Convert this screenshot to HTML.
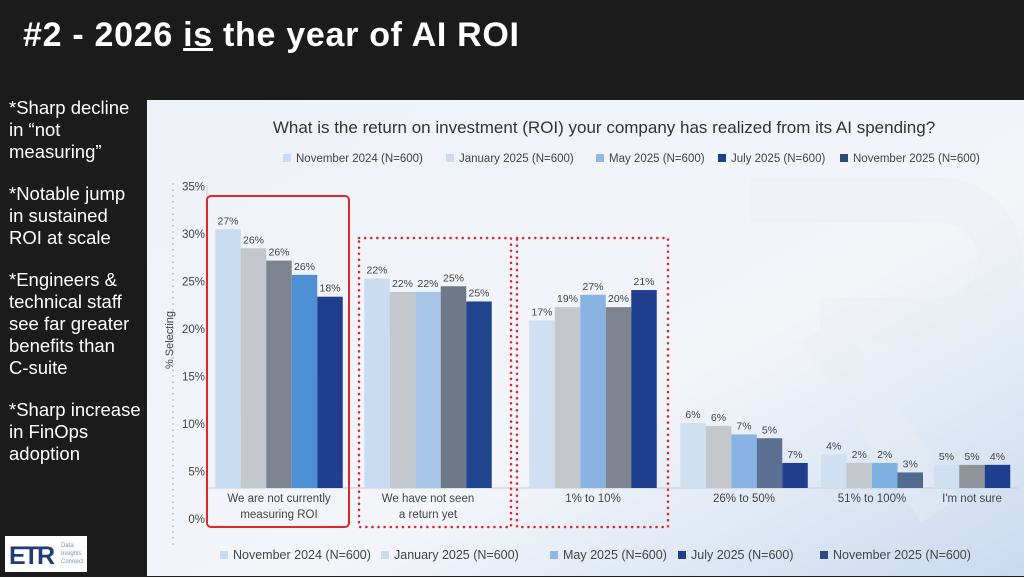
<!DOCTYPE html>
<html><head><meta charset="utf-8"><style>
html,body{margin:0;padding:0;width:1024px;height:576px;overflow:hidden;background:#1b1b1b;font-family:"Liberation Sans",sans-serif}
#title{position:absolute;left:23px;top:16px;color:#fff;font-size:34px;font-weight:bold;white-space:nowrap;letter-spacing:0.7px}
#notes{position:absolute;left:9px;top:97px;width:140px;color:#fff;font-size:18.5px;line-height:22px;white-space:nowrap}
#notes p{margin:0 0 20px 0}
#logo{position:absolute;left:5px;top:536px;width:82px;height:36px;background:#fff}
#panel{position:absolute;left:147px;top:100px}
</style></head><body>
<div id="title">#2 - 2026 <u>is</u> the year of AI ROI</div>
<div id="notes">
<p>*Sharp decline<br>in “not<br>measuring”</p>
<p>*Notable jump<br>in sustained<br>ROI at scale</p>
<p>*Engineers &amp;<br>technical staff<br>see far greater<br>benefits than<br>C-suite</p>
<p>*Sharp increase<br>in FinOps<br>adoption</p>
</div>
<div id="logo">
<svg width="82" height="36"><text x="4" y="28" font-family="Liberation Sans" font-weight="bold" font-size="25" fill="#1f3b78" letter-spacing="-2">ETR</text><text x="56" y="11" font-size="6" fill="#7a8fb5">Data</text><text x="56" y="19" font-size="6" fill="#7a8fb5">Insights</text><text x="56" y="27" font-size="6" fill="#7a8fb5">Connect</text></svg>
</div>
<svg id="panel" width="877" height="476" viewBox="147 100 877 476">
<defs>
<linearGradient id="bg" x1="0" y1="0" x2="1" y2="1">
<stop offset="0" stop-color="#eef2f8"/><stop offset="0.6" stop-color="#f3f5f9"/><stop offset="1" stop-color="#c9daf0"/>
</linearGradient>
</defs>
<rect x="147" y="100" width="877" height="476" fill="url(#bg)"/>
<path d="M750 200 h190 a60 60 0 0 1 0 120 h-120 M820 330 l120 180" fill="none" stroke="#e9edf3" stroke-width="45" opacity="0.4"/>
<text x="604" y="133" text-anchor="middle" font-size="17" fill="#333">What is the return on investment (ROI) your company has realized from its AI spending?</text>
<g id="legendTop"></g>
<g id="legendBot"></g>
<line x1="173" y1="183" x2="173" y2="545" stroke="#b8c4d6" stroke-width="1.5" stroke-dasharray="2,4"/>
<text transform="translate(173,340) rotate(-90)" text-anchor="middle" font-size="11" fill="#444">% Selecting</text>
<g id="yticks"></g>
<line x1="205" y1="488" x2="1018" y2="488" stroke="#c6cdd8" stroke-width="1"/>
<line x1="207" y1="185" x2="207" y2="488" stroke="#c6cdd8" stroke-width="1"/>
<g id="bars"></g>
<g id="xlabels"></g>
<rect x="207" y="196" width="142" height="331" rx="4" fill="none" stroke="#e0262b" stroke-width="2"/>
<rect x="359" y="238" width="152" height="289" fill="none" stroke="#e0262b" stroke-width="2.5" stroke-dasharray="0.1,6" stroke-linecap="round"/>
<rect x="517" y="238" width="151" height="289" fill="none" stroke="#e0262b" stroke-width="2.5" stroke-dasharray="0.1,6" stroke-linecap="round"/>
</svg>
<script>
const categories=[["We are not currently","measuring ROI"],["We have not seen","a return yet"],["1% to 10%"],["26% to 50%"],["51% to 100%"],["I'm not sure"]];
const barValues=[[30.5,28.5,27.2,25.7,23.4],[25.3,23.9,23.9,24.5,22.9],[20.9,22.3,23.6,22.3,24.1],[10.1,9.8,8.9,8.5,5.9],[6.8,5.9,5.9,4.9],[5.7,5.7,5.7]];
const barLabels=[["27%","26%","26%","26%","18%"],["22%","22%","22%","25%","25%"],["17%","19%","27%","20%","21%"],["6%","6%","7%","5%","7%"],["4%","2%","2%","3%"],["5%","5%","4%"]];
const tickValues=[0,5,10,15,20,25,30,35];
const tickLabels=["0%","5%","10%","15%","20%","25%","30%","35%"];
const seriesNames=["November 2024 (N=600)","January 2025 (N=600)","May 2025 (N=600)","July 2025 (N=600)","November 2025 (N=600)"];
const barColors=[["#c9dcf1","#c4c7cc","#7d838f","#4c8fd2","#1f3f8e"],["#c9dcf1","#c4c7cc","#a8c6e8","#6d7889","#1f4590"],["#cfe0f3","#c4c7cc","#88b3e2","#7d838f","#1f3f8e"],["#cfe0f3","#c4c7cc","#88b3e2","#5a6f92","#1f3f8e"],["#cfe0f3","#c4c7cc","#7fb0e2","#536a90"],["#cfe0f3","#8f949b","#1f3f8e"]];
const groupCenters=[279,428,593,744,872,972];
const NS="http://www.w3.org/2000/svg";
const y=v=>519-v*9.5;
const baseY=488, bw=25.5;
function mk(tag,attrs,parent){const e=document.createElementNS(NS,tag);for(const k in attrs)e.setAttribute(k,attrs[k]);parent.appendChild(e);return e;}
const yt=document.getElementById('yticks');
tickValues.forEach((v,i)=>{const t=mk('text',{x:205,y:y(v)+4,'text-anchor':'end','font-size':11.5,fill:'#444'},yt);


t.textContent=tickLabels[i];});
const bars=document.getElementById('bars');
barValues.forEach((grp,gi)=>{const n=grp.length;const x0=groupCenters[gi]-n*bw/2;
grp.forEach((v,bi)=>{const top=y(v);const r=mk('rect',{x:x0+bi*bw,y:top,width:bw,height:baseY-top,fill:barColors[gi][bi]},bars);


const t=mk('text',{x:x0+bi*bw+bw/2,y:top-5,'text-anchor':'middle','font-size':10.5,fill:'#444'},bars);


t.textContent=barLabels[gi][bi];});});
const xl=document.getElementById('xlabels');
categories.forEach((c,gi)=>{c.forEach((line,li)=>{const t=mk('text',{x:groupCenters[gi],y:502+li*16,'text-anchor':'middle','font-size':11.5,fill:'#444'},xl);


t.textContent=line;});});
const legCols=["#c9dcf1","#c9dcf1","#8fb8e4","#1f3f8e","#2c4a7e"];
function legend(id,xs,yy,fs){const g=document.getElementById(id);seriesNames.forEach((s,i)=>{const r=mk('rect',{x:xs[i],y:yy-8,width:8,height:8,fill:legCols[i]},g);


const t=mk('text',{x:xs[i]+13,y:yy,'font-size':fs,fill:'#444'},g);


t.textContent=s;});}
legend('legendTop',[283,446,596,718,840],162,11.5);
legend('legendBot',[220,381,550,678,820],559,12.5);
</script>
</body></html>
